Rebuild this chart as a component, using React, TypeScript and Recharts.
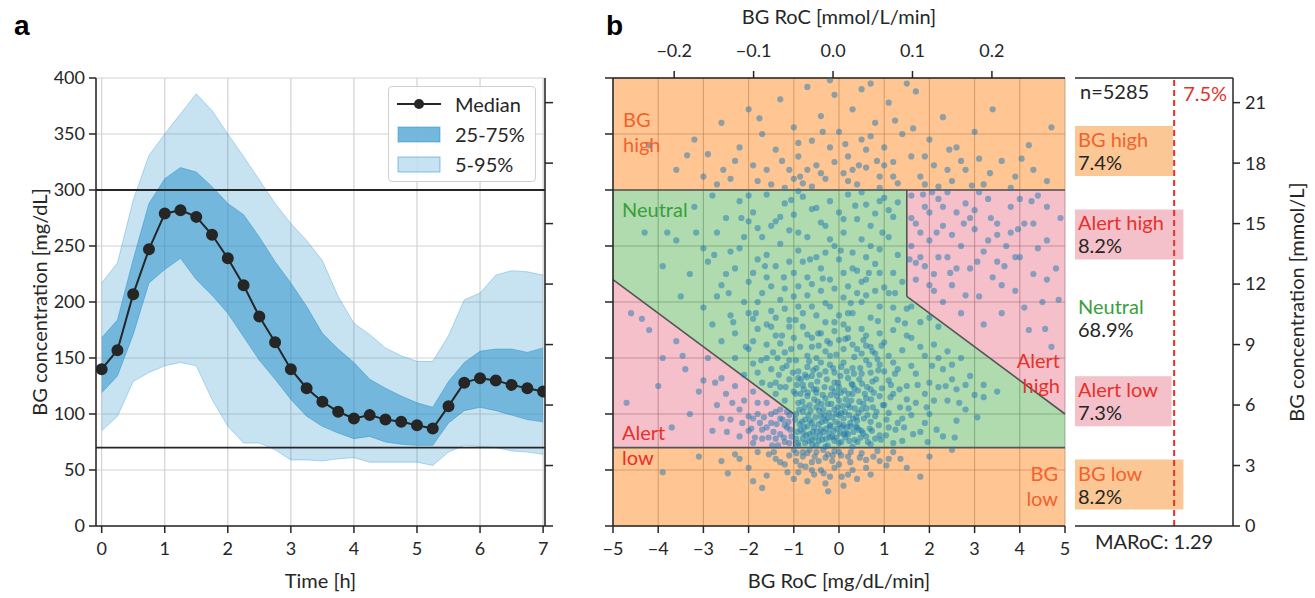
import React from "react"
import {
  ComposedChart, BarChart, Line, Area, Bar, Scatter, Cell, XAxis, YAxis,
  CartesianGrid, ReferenceLine, ReferenceArea, Legend, LabelList,
} from "recharts"

const FONT = "Lato, 'Open Sans', sans-serif"
const INK = "#262626"
const BLUE = "#1f8dc8"
const DOT = "#1f77b4"
const RED = "#e8302a"

// panel a: glucose after the meal, one value every 15 min
const hours = [0, 0.25, 0.5, 0.75, 1, 1.25, 1.5, 1.75, 2, 2.25, 2.5, 2.75, 3, 3.25, 3.5, 3.75, 4, 4.25, 4.5, 4.75, 5, 5.25, 5.5, 5.75, 6, 6.25, 6.5, 6.75, 7]
const median = [140, 157, 207, 247, 279, 282, 276, 260, 239, 215, 187, 164, 140, 123, 111, 102, 96, 99, 95, 93, 90, 87, 107, 128, 132, 130, 126, 123, 120]
const q25 = [119, 134, 171, 217, 229, 239, 220, 206, 190, 169, 148, 131, 113, 98, 89, 83, 78, 80, 75, 73, 72, 72, 92, 103, 106, 103, 99, 95, 93]
const q75 = [168, 184, 238, 288, 310, 320, 316, 303, 288, 278, 258, 236, 217, 196, 172, 158, 146, 131, 123, 116, 110, 106, 129, 146, 156, 158, 158, 155, 159]
const q5 = [85, 98, 129, 137, 143, 146, 143, 113, 89, 74, 74, 68, 59, 59, 58, 60, 61, 57, 57, 57, 57, 54, 66, 72, 71, 70, 67, 66, 64]
const q95 = [217, 235, 291, 331, 350, 368, 386, 371, 350, 330, 309, 288, 270, 255, 237, 205, 181, 171, 159, 152, 147, 147, 170, 202, 208, 224, 228, 227, 224]

const hourTicks = [0, 1, 2, 3, 4, 5, 6, 7]
const bgTicks = [0, 50, 100, 150, 200, 250, 300, 350, 400]
const mmolTicks = [0, 3, 6, 9, 12, 15, 18, 21]
const rocTicks = [-5, -4, -3, -2, -1, 0, 1, 2, 3, 4, 5]
const rocMmolTicks = [-0.2, -0.1, 0, 0.1, 0.2]

// panel b: zone limits
const bgLow = 70
const bgHigh = 300
const alertLowLine = [[-5, 220], [-1, 100]]
const alertHighLine = [[1.5, 205], [5, 100]]

// panel b: samples [RoC mg/dL/min, BG mg/dL]
const highDots = [
  [-3.6, 318], [-3.2, 345], [-2.9, 332], [-2.6, 360], [-2.4, 310], [-2.2, 338], [-2.0, 372], [-1.9, 322], [-1.7, 350], [-1.5, 305],
  [-1.4, 336], [-1.3, 381], [-1.1, 318], [-1.0, 356], [-0.9, 330], [-0.8, 306], [-0.7, 392], [-0.6, 344], [-0.5, 322], [-0.4, 366],
  [-0.3, 310], [-0.2, 338], [-0.1, 385], [0.0, 352], [0.1, 315], [0.2, 330], [0.3, 372], [0.4, 305], [0.5, 345], [0.6, 320],
  [0.7, 395], [0.8, 360], [0.9, 312], [1.0, 338], [1.1, 378], [1.2, 325], [1.3, 306], [1.4, 350], [1.6, 330], [1.7, 388],
  [1.8, 312], [2.0, 345], [2.1, 322], [2.3, 365], [2.5, 308], [2.6, 338], [2.8, 318], [3.0, 352], [3.2, 305], [3.4, 372],
  [3.6, 326], [3.9, 312], [4.2, 340], [4.6, 308], [4.7, 356], [-4.2, 340], [-0.2, 398], [0.5, 390], [1.5, 395], [-1.8, 308],
  [0.9, 302], [-0.6, 303], [2.2, 303], [-2.7, 305], [-1.2, 302], [0.3, 318], [1.9, 305], [2.7, 326], [-0.4, 315], [3.8, 302],
  [-3.0, 312], [4.3, 318], [-1.6, 318], [-0.9, 342], [-0.1, 325], [0.6, 336], [1.2, 312], [1.9, 330], [2.4, 318], [-2.3, 326],
  [0.2, 308], [-0.7, 318], [1.0, 322], [3.1, 328], [-1.0, 310], [0.7, 348],
  [-3.36, 331], [-2.56, 318], [-1.76, 364], [-0.86, 312], [0.14, 341], [0.84, 326], [1.64, 355], [2.44, 336], [3.34, 315], [4.04, 328],
  [-1.26, 326], [0.44, 322], [1.24, 362], [-0.36, 352], [2.94, 304],
]
const alertHighDots = [
  [1.6, 295], [1.7, 270], [1.8, 240], [1.9, 285], [2.0, 255], [2.1, 225], [2.2, 292], [2.3, 268], [2.4, 240], [2.5, 215],
  [2.6, 280], [2.7, 250], [2.8, 288], [2.9, 230], [3.0, 265], [3.1, 205], [3.2, 245], [3.3, 292], [3.4, 222], [3.5, 270],
  [3.6, 190], [3.7, 250], [3.8, 285], [3.9, 210], [4.0, 240], [4.1, 270], [4.2, 175], [4.3, 225], [4.4, 295], [4.5, 200],
  [4.6, 255], [4.7, 160], [4.8, 230], [1.6, 250], [1.7, 220], [2.0, 280], [2.2, 240], [2.4, 298], [2.6, 230], [2.8, 206],
  [3.0, 282], [3.3, 255], [3.5, 236], [3.8, 262], [4.1, 195], [4.4, 248], [4.6, 285], [1.8, 262], [2.5, 260], [3.1, 298],
  [4.9, 275], [2.1, 210], [3.6, 215], [4.0, 292], [1.9, 232], [1.7, 235], [2.0, 215], [2.3, 200], [2.7, 190], [3.2, 180],
  [3.5, 260], [4.3, 270], [2.9, 275], [3.9, 240], [4.6, 220], [2.3, 285], [1.6, 275],
  [1.56, 238], [1.86, 296], [2.16, 262], [2.46, 226], [2.76, 270], [3.06, 236], [3.36, 275], [3.66, 232], [3.96, 265], [4.26, 290],
  [4.56, 176], [4.86, 202], [2.06, 298],
]
const neutralDots = [
  [-3.2, 285], [-2.8, 295], [-2.5, 275], [-2.2, 290], [-1.9, 280], [-1.6, 296], [-1.4, 272], [-1.2, 288], [-1.0, 278], [-0.8, 294],
  [-0.6, 283], [-0.4, 271], [-0.2, 290], [0.0, 280], [0.2, 296], [0.4, 274], [0.6, 287], [0.8, 279], [1.0, 293], [1.2, 276],
  [1.3, 289], [-0.9, 299], [0.5, 298], [-2.0, 272],
  [-3.6, 255], [-3.0, 248], [-2.7, 262], [-2.4, 245], [-2.1, 258], [-1.8, 266], [-1.6, 242], [-1.3, 252], [-1.1, 264], [-0.9, 246],
  [-0.7, 258], [-0.5, 240], [-0.3, 268], [-0.1, 250], [0.1, 262], [0.3, 244], [0.5, 256], [0.7, 268], [0.9, 247], [1.1, 258],
  [1.3, 242], [-1.5, 268], [-0.2, 256], [0.6, 240], [-4.3, 262],
  [-3.3, 225], [-2.9, 236], [-2.6, 215], [-2.3, 230], [-2.0, 218], [-1.8, 238], [-1.6, 222], [-1.4, 232], [-1.2, 212], [-1.0, 226],
  [-0.8, 236], [-0.6, 216], [-0.4, 230], [-0.2, 220], [0.0, 238], [0.2, 214], [0.4, 228], [0.6, 220], [0.8, 234], [1.0, 213],
  [1.2, 226], [1.4, 218], [1.6, 196], [-0.9, 214], [0.1, 226], [-1.9, 226], [-3.9, 232],
  [-3.0, 195], [-2.7, 205], [-2.4, 188], [-2.1, 200], [-1.9, 185], [-1.7, 208], [-1.5, 192], [-1.3, 202], [-1.1, 184], [-0.9, 196],
  [-0.7, 206], [-0.5, 188], [-0.3, 199], [-0.1, 182], [0.1, 204], [0.3, 190], [0.5, 200], [0.7, 186], [0.9, 196], [1.1, 208],
  [1.3, 184], [1.5, 194], [1.8, 182], [2.0, 186], [-0.6, 196], [0.4, 208], [-1.6, 180], [2.2, 178],
  [-2.6, 165], [-2.3, 172], [-2.0, 158], [-1.8, 176], [-1.6, 162], [-1.4, 170], [-1.2, 155], [-1.0, 168], [-0.8, 178], [-0.6, 160],
  [-0.4, 172], [-0.2, 152], [0.0, 166], [0.2, 176], [0.4, 158], [0.6, 170], [0.8, 154], [1.0, 164], [1.2, 175], [1.4, 157],
  [1.6, 168], [1.9, 152], [2.1, 162], [2.4, 156], [2.7, 150], [-0.5, 150], [0.3, 162], [-1.1, 178], [-0.1, 174], [0.9, 172],
  [-2.1, 135], [-1.9, 145], [-1.7, 128], [-1.5, 140], [-1.3, 124], [-1.1, 148], [-0.9, 132], [-0.7, 142], [-0.5, 122], [-0.3, 138],
  [-0.1, 128], [0.1, 146], [0.3, 126], [0.5, 136], [0.7, 122], [0.9, 144], [1.1, 130], [1.3, 140], [1.5, 125], [1.7, 136],
  [2.0, 128], [2.3, 140], [2.6, 122], [2.9, 134], [3.2, 126], [3.5, 120], [-0.6, 134], [-0.2, 144], [0.2, 132], [0.6, 148],
  [-1.0, 120], [1.0, 138], [-0.8, 126], [-0.4, 146], [0.0, 124],
  [-0.97, 95], [-0.9, 110], [-0.8, 102], [-0.7, 116], [-0.6, 92], [-0.5, 106], [-0.4, 98], [-0.3, 114], [-0.2, 90], [-0.1, 104],
  [0.0, 112], [0.1, 96], [0.2, 108], [0.3, 118], [0.4, 94], [0.5, 104], [0.6, 114], [0.8, 98], [1.0, 108], [1.2, 118],
  [1.4, 96], [1.7, 110], [2.0, 100], [2.4, 112], [2.8, 104], [3.2, 115], [-1.2, 112], [-1.4, 118], [-0.95, 100], [-0.85, 118],
  [-0.75, 95], [-0.65, 108], [-0.55, 113], [-0.45, 91], [-0.35, 104], [-0.25, 109], [-0.15, 97], [-0.05, 116], [0.05, 101], [0.15, 113],
  [0.25, 92], [0.35, 105], [0.45, 111], [0.7, 93], [0.9, 116], [1.1, 101], [1.5, 113], [-0.5, 119], [-0.3, 94], [0.0, 99],
  [-0.95, 78], [-0.85, 86], [-0.75, 74], [-0.65, 82], [-0.55, 88], [-0.45, 76], [-0.35, 84], [-0.25, 72], [-0.15, 80], [-0.05, 87],
  [0.05, 75], [0.15, 83], [0.25, 89], [0.35, 77], [0.5, 85], [0.7, 73], [0.9, 81], [1.1, 88], [1.4, 76], [1.8, 84],
  [2.3, 80], [-0.9, 72], [-0.6, 77], [-0.4, 86], [-0.2, 79], [0.0, 74], [0.2, 82], [0.4, 88], [-0.7, 89], [-0.3, 71],
  [0.1, 90], [0.6, 80], [1.2, 74],
  [-0.92, 84], [-0.88, 104], [-0.82, 93], [-0.78, 122], [-0.72, 81], [-0.68, 99], [-0.62, 126], [-0.58, 84], [-0.52, 97], [-0.48, 129],
  [-0.42, 81], [-0.38, 93], [-0.32, 124], [-0.28, 87], [-0.22, 101], [-0.18, 117], [-0.12, 85], [-0.08, 93], [-0.02, 128], [0.02, 83],
  [0.08, 107], [0.12, 121], [0.18, 88], [0.22, 99], [0.28, 127], [0.32, 84], [0.38, 97], [0.42, 121], [0.48, 79], [0.55, 96],
  [0.62, 124], [0.68, 87], [0.75, 106], [0.82, 131], [0.88, 90], [0.95, 123], [1.05, 95], [1.15, 126], [1.25, 86], [1.35, 106],
  [-0.9, 138], [-0.7, 152], [-0.5, 141], [-0.3, 156], [-0.1, 137], [0.1, 158], [0.3, 141], [0.5, 154], [0.7, 137], [-0.6, 168],
  [-0.2, 163], [0.2, 168], [0.6, 161], [-1.1, 131], [-1.25, 141], [-1.4, 128], [-1.6, 150], [-1.8, 137], [-0.95, 148], [-0.75, 135],
  [-0.45, 161], [0.05, 142], [0.45, 131], [0.85, 149], [1.2, 146], [1.6, 143], [1.9, 118], [2.2, 124], [2.5, 131], [1.3, 92],
  [1.6, 99], [1.9, 92], [2.1, 112], [2.6, 94], [3.0, 117], [-0.8, 78], [-0.5, 72], [-0.1, 76], [0.3, 71], [0.8, 78],
  [-2.5, 225], [-2.2, 248], [-1.7, 258], [-1.5, 214], [-1.3, 276], [-1.1, 236], [-0.9, 262], [-0.7, 222], [-0.5, 284], [-0.3, 244],
  [-0.1, 212], [0.1, 274], [0.3, 230], [0.5, 218], [0.7, 250], [0.9, 226], [1.1, 282], [-2.0, 190], [-1.8, 200], [-1.4, 186],
  [-1.2, 194], [-1.0, 205], [-0.8, 190], [-0.4, 210], [-0.2, 196], [0.0, 188], [0.2, 190], [0.6, 206], [0.8, 210], [1.2, 195],
  [-1.9, 165], [-1.5, 178], [-1.3, 163], [-0.7, 171], [-0.3, 182], [0.1, 180], [0.5, 176], [0.7, 160], [1.1, 152], [1.5, 170],
  [1.8, 160], [2.2, 150], [2.5, 144], [2.8, 126], [-2.3, 150], [-2.8, 180], [-3.5, 205], [-3.8, 262], [-2.0, 295], [0.9, 290],
  [-0.93, 126], [-0.87, 91], [-0.81, 111], [-0.77, 88], [-0.71, 133], [-0.67, 76], [-0.63, 103], [-0.57, 139], [-0.53, 79], [-0.47, 111],
  [-0.43, 135], [-0.37, 77], [-0.33, 99], [-0.27, 131], [-0.23, 83], [-0.17, 109], [-0.13, 141], [-0.07, 79], [-0.03, 106], [0.03, 134],
  [0.07, 88], [0.13, 102], [0.17, 138], [0.23, 76], [0.27, 112], [0.33, 136], [0.37, 89], [0.43, 101], [0.47, 141], [0.53, 83],
  [0.57, 118], [0.63, 99], [0.67, 144], [0.73, 85], [0.77, 119], [0.83, 102], [0.87, 139], [0.93, 77], [0.97, 108], [-0.96, 118],
  [-0.84, 131], [-0.76, 106], [-0.64, 94], [-0.56, 122], [-0.44, 103], [-0.36, 117], [-0.26, 96], [-0.16, 123], [-0.06, 100], [0.04, 119],
  [0.14, 79], [0.24, 106], [0.34, 123], [0.44, 86], [0.54, 109], [0.64, 75], [0.74, 129], [-0.91, 74], [-0.79, 83], [-0.69, 119],
  [-0.59, 73], [-0.49, 84], [-0.39, 109], [-0.29, 78], [-0.19, 89], [-0.09, 120], [0.01, 91], [0.11, 82], [0.21, 118], [0.31, 96],
  [0.41, 75], [0.51, 127], [0.61, 105], [0.71, 113], [-0.86, 160], [-0.66, 147], [-0.46, 172], [-0.26, 165], [-0.06, 153], [0.14, 167],
  [0.34, 151], [0.54, 166], [0.74, 156], [0.94, 161], [-1.06, 158], [-1.26, 170], [-1.46, 155], [-1.16, 143], [-1.36, 150], [1.14, 115],
  [1.34, 122], [1.54, 105], [1.74, 126], [1.94, 106], [1.24, 136], [1.44, 88], [1.64, 82], [1.04, 81], [-1.02, 137], [-1.18, 124],
  [-1.33, 135], [-1.52, 126], [-1.72, 148], [-2.06, 160], [-2.34, 182], [-1.84, 190], [-1.22, 222], [-0.64, 238], [0.04, 246], [0.66, 226],
  [1.24, 208], [-0.96, 184], [-0.36, 221], [0.26, 199], [0.86, 183], [1.46, 181], [2.06, 143], [2.36, 125], [2.66, 110], [3.06, 97],
  [2.16, 86], [2.56, 79], [1.96, 75], [-2.44, 208], [-1.64, 232], [-2.76, 242], [-3.16, 262], [-2.16, 275], [-1.06, 291], [0.36, 286],
  [0.96, 262],
]
const alertLowDots = [
  [-4.6, 190], [-4.2, 175], [-3.9, 150], [-3.6, 165], [-3.4, 140], [-3.1, 120], [-2.9, 150], [-2.7, 108], [-2.6, 132], [-2.4, 95],
  [-2.3, 125], [-2.1, 112], [-2.0, 85], [-1.9, 120], [-1.8, 100], [-1.7, 78], [-1.6, 110], [-1.5, 92], [-1.4, 102], [-1.3, 82],
  [-1.25, 95], [-1.2, 75], [-1.15, 88], [-1.1, 99], [-1.05, 80], [-1.6, 88], [-1.9, 96], [-2.2, 104], [-2.5, 118], [-3.3, 100],
  [-4.0, 125], [-4.7, 110], [-3.7, 88], [-1.35, 72], [-1.45, 84], [-1.75, 92], [-2.8, 85], [-1.3, 104], [-1.2, 90], [-1.3, 96],
  [-1.4, 78], [-1.5, 100], [-1.7, 86], [-1.8, 110], [-2.0, 98], [-2.2, 80], [-1.1, 74], [-1.15, 102], [-2.6, 96], [-3.0, 130],
  [-1.9, 74], [-1.08, 86], [-1.22, 79], [-1.38, 91], [-1.56, 79], [-1.66, 97], [-1.94, 87], [-2.14, 92], [-2.36, 110], [-2.74, 128],
  [-3.46, 152], [-4.36, 185], [-1.12, 93], [-1.48, 72], [-1.86, 79], [-2.48, 84],
]
const lowDots = [
  [-2.6, 58], [-2.3, 64], [-2.0, 52], [-1.8, 66], [-1.6, 45], [-1.4, 60], [-1.2, 55], [-1.0, 68], [-0.9, 48], [-0.8, 62],
  [-0.7, 40], [-0.6, 57], [-0.5, 66], [-0.4, 50], [-0.3, 61], [-0.2, 44], [-0.1, 67], [0.0, 55], [0.1, 36], [0.2, 62],
  [0.3, 50], [0.5, 65], [0.7, 46], [0.9, 58], [1.2, 66], [1.5, 52], [2.0, 62], [2.5, 68], [-3.1, 62], [-1.7, 34],
  [-0.95, 58], [-0.55, 46], [-0.15, 58], [0.4, 42], [-3.9, 48], [-1.1, 63], [-0.65, 68], [-0.25, 64], [1.8, 44], [-0.7, 65],
  [-0.45, 58], [-0.1, 52], [0.25, 57], [-0.35, 68], [0.05, 63], [-0.85, 54], [0.6, 59], [-1.3, 57], [-1.55, 64], [0.85, 67],
  [1.05, 54], [-2.2, 60], [-1.0, 42], [-0.3, 38], [0.6, 52], [1.1, 60], [-1.9, 40], [0.2, 46], [-0.8, 66], [0.0, 66],
  [-0.6, 50], [-1.14, 48], [-0.74, 53], [-0.34, 47], [0.06, 44], [0.46, 61], [-0.54, 62], [-0.14, 63], [0.26, 66], [-1.44, 66],
  [-0.94, 65], [0.76, 62], [-2.46, 47], [-0.24, 31], [1.36, 60],
]

// side panel
const zoneNames = ["BG high", "Alert high", "Neutral", "Alert low", "BG low"]
const zoneShares = [7.4, 8.2, 68.9, 7.3, 8.2]
const sampleCount = 5285
const alarmRate = 7.5
const maroc = 1.29

const ORANGE = "#ff7f0e"
const GREEN = "#2ca02c"
const PINK = "#e0405c"
const zoneStyle: Record<string, { bar: string; text: string }> = {
  "BG high": { bar: "#fac795", text: "#f2622e" },
  "Alert high": { bar: "#f4c0c9", text: RED },
  "Neutral": { bar: "none", text: "#3a9e3a" },
  "Alert low": { bar: "#f4c0c9", text: RED },
  "BG low": { bar: "#fac795", text: "#f2622e" },
}

const tickFont = { fontSize: 18, fill: INK, fontFamily: FONT }
const titleFont = { fontSize: 20, fill: INK, fontFamily: FONT }
const spine = { stroke: INK, strokeWidth: 1.5 }
const minus = (s: string) => s.replace("-", "\u2212")

function BandLegend() {
  const row = { display: "flex", alignItems: "center", height: 30 }
  const patch = (op: number) => (
    <svg width={44} height={22}>
      <rect x={1} y={4} width={42} height={15} fill={BLUE} fillOpacity={op} stroke={BLUE} strokeOpacity={0.5} />
    </svg>
  )
  return (
    <div style={{ border: "1px solid #d0d0d0", borderRadius: 4, background: "rgba(255,255,255,0.85)", padding: "2px 8px", fontFamily: FONT, fontSize: 20, color: INK }}>
      <div style={row}>
        <svg width={44} height={22}>
          <line x1={0} x2={44} y1={11} y2={11} stroke={INK} strokeWidth={2} />
          <circle cx={22} cy={11} r={5} fill={INK} />
        </svg>
        <span style={{ marginLeft: 14 }}>Median</span>
      </div>
      <div style={row}>{patch(0.62)}<span style={{ marginLeft: 14 }}>25-75%</span></div>
      <div style={row}>{patch(0.25)}<span style={{ marginLeft: 14 }}>5-95%</span></div>
    </div>
  )
}

function PanelA() {
  const rows = hours.map((t, i) => ({ t, median: median[i], iqr: [q25[i], q75[i]], outer: [q5[i], q95[i]] }))
  return (
    <ComposedChart width={600} height={598} data={rows} margin={{ top: 78, right: 45, bottom: 0, left: 0 }}>
      <CartesianGrid stroke="#d2d2d2" strokeWidth={1.2} />
      <XAxis dataKey="t" type="number" domain={[-0.09, 7.03]} ticks={hourTicks} allowDataOverflow
        height={72} tickSize={7} tickMargin={9} axisLine={spine} tickLine={spine} tick={tickFont}
        label={{ value: "Time [h]", position: "insideBottom", offset: 10, ...titleFont }} />
      <XAxis xAxisId="top" dataKey="t" orientation="top" type="number" domain={[-0.09, 7.03]} allowDataOverflow
        height={0} tick={false} tickLine={false} axisLine={spine} />
      <YAxis type="number" domain={[0, 400]} ticks={bgTicks} width={96} tickSize={7} tickMargin={4}
        axisLine={spine} tickLine={spine} tick={tickFont}
        label={{ value: "BG concentration [mg/dL]", angle: -90, position: "insideLeft", offset: 40, ...titleFont, style: { textAnchor: "middle" } }} />
      <YAxis yAxisId="mmol" orientation="right" type="number" domain={[0, 400 / 18]} ticks={mmolTicks} allowDataOverflow
        width={10} tickSize={8} tickLine={spine} axisLine={spine} tickFormatter={() => ""} />
      <Legend layout="vertical" align="center" verticalAlign="middle" content={() => <BandLegend />}
        wrapperStyle={{ left: 388, top: 86, width: 148 }} />
      <Area dataKey="outer" type="linear" fill={BLUE} fillOpacity={0.25} stroke={BLUE} strokeOpacity={0.3} isAnimationActive={false} />
      <Area dataKey="iqr" type="linear" fill={BLUE} fillOpacity={0.5} stroke={BLUE} strokeOpacity={0.45} isAnimationActive={false} />
      <ReferenceLine y={bgLow} stroke={INK} strokeWidth={1.8} />
      <ReferenceLine y={bgHigh} stroke={INK} strokeWidth={1.8} />
      <Line dataKey="median" type="linear" stroke={INK} strokeWidth={2} dot={{ r: 5, fill: INK, stroke: INK }} isAnimationActive={false} />
    </ComposedChart>
  )
}

function PanelB() {
  const [lowA, lowB] = alertLowLine
  const [highA, highB] = alertHighLine
  const zones = [
    { roc: lowA[0], neutral: [lowA[1], bgHigh], low: [bgLow, lowA[1]] },
    { roc: lowB[0], neutral: [lowB[1], bgHigh], low: [bgLow, lowB[1]] },
    { roc: lowB[0], neutral: [bgLow, bgHigh] },
    { roc: highA[0], neutral: [bgLow, bgHigh], high: [bgHigh, bgHigh] },
    { roc: highA[0], neutral: [bgLow, highA[1]], high: [highA[1], bgHigh] },
    { roc: highB[0], neutral: [bgLow, highB[1]], high: [highB[1], bgHigh] },
  ]
  const dots = [...highDots, ...alertHighDots, ...neutralDots, ...alertLowDots, ...lowDots].map(([roc, bg]) => ({ roc, bg }))
  const edge = { stroke: "#555", strokeWidth: 1.6 }
  return (
    <ComposedChart width={540} height={598} data={zones} margin={{ top: 0, right: 35, bottom: 0, left: 43 }}>
      <CartesianGrid stroke="#6f6f6f" strokeOpacity={0.5} strokeWidth={1.1} />
      <XAxis dataKey="roc" type="number" domain={[-5, 5]} ticks={rocTicks} allowDataOverflow
        height={72} tickSize={7} tickMargin={9} axisLine={spine} tickLine={spine} tick={tickFont}
        tickFormatter={(v) => minus(String(v))}
        label={{ value: "BG RoC [mg/dL/min]", position: "insideBottom", offset: 10, ...titleFont }} />
      <XAxis xAxisId="top" dataKey="roc" orientation="top" type="number" domain={[-0.277, 0.292]} ticks={rocMmolTicks} allowDataOverflow
        height={78} tickSize={7} tickMargin={14} axisLine={spine} tickLine={spine} tick={tickFont}
        tickFormatter={(v) => minus(Number(v).toFixed(1))}
        label={{ value: "BG RoC [mmol/L/min]", position: "insideTop", offset: 10, ...titleFont }} />
      <YAxis type="number" domain={[0, 400]} ticks={bgTicks} allowDataOverflow width={10} tickSize={8}
        axisLine={spine} tickLine={spine} tickFormatter={() => ""} />
      <YAxis yAxisId="edge" orientation="right" type="number" domain={[0, 400]} allowDataOverflow width={0}
        tick={false} tickLine={false} axisLine={spine} />
      <ReferenceArea y1={bgHigh} y2={400} fill={ORANGE} fillOpacity={0.45} stroke="none" />
      <ReferenceArea y1={0} y2={bgLow} fill={ORANGE} fillOpacity={0.45} stroke="none" />
      <Area dataKey="neutral" type="linear" fill={GREEN} fillOpacity={0.38} stroke="none" isAnimationActive={false} />
      <Area dataKey="low" type="linear" fill={PINK} fillOpacity={0.33} stroke="none" isAnimationActive={false} />
      <Area dataKey="high" type="linear" fill={PINK} fillOpacity={0.33} stroke="none" isAnimationActive={false} />
      <ReferenceLine y={bgHigh} {...edge} />
      <ReferenceLine y={bgLow} {...edge} />
      <ReferenceLine segment={[{ x: lowA[0], y: lowA[1] }, { x: lowB[0], y: lowB[1] }]} {...edge} />
      <ReferenceLine segment={[{ x: lowB[0], y: lowB[1] }, { x: lowB[0], y: bgLow }]} {...edge} />
      <ReferenceLine segment={[{ x: highA[0], y: bgHigh }, { x: highA[0], y: highA[1] }]} {...edge} />
      <ReferenceLine segment={[{ x: highA[0], y: highA[1] }, { x: highB[0], y: highB[1] }]} {...edge} />
      <Scatter data={dots} dataKey="bg" isAnimationActive={false}
        shape={(p: any) => <circle cx={p.cx} cy={p.cy} r={3.1} fill={DOT} fillOpacity={0.5} />} />
    </ComposedChart>
  )
}

function ZoneLabel(p: any) {
  const vb = p.viewBox ?? p
  const name = zoneNames[p.index]
  if (!name) return null
  const cy = vb.y + vb.height / 2
  return (
    <g fontFamily={FONT} fontSize={20}>
      <text x={vb.x + 3} y={cy - 12} dominantBaseline="central" fill={zoneStyle[name].text}>{name}</text>
      <text x={vb.x + 3} y={cy + 11} dominantBaseline="central" fill={INK}>{zoneShares[p.index].toFixed(1)}%</text>
    </g>
  )
}

function ZoneBars() {
  const rows = zoneNames.map((name, i) => ({ name, share: zoneShares[i] }))
  return (
    <BarChart layout="vertical" width={255} height={598} data={rows} margin={{ top: 0, right: 0, bottom: 0, left: 15 }}>
      <XAxis type="number" dataKey="share" domain={[0, 11.95]} allowDataOverflow height={72} tick={false} tickLine={false} axisLine={spine}
        label={{ value: `MARoC: ${maroc}`, position: "insideTop", offset: 9, ...titleFont }} />
      <XAxis xAxisId="top" dataKey="share" orientation="top" type="number" domain={[0, 11.95]} allowDataOverflow height={78}
        tick={false} tickLine={false} axisLine={spine} />
      <YAxis yAxisId="cat" type="category" dataKey="name" width={0} tick={false} tickLine={false}
        padding={{ top: 31, bottom: 0 }} axisLine={{ stroke: "#6a6a6a", strokeWidth: 1.5 }} />
      <YAxis yAxisId="mmol" dataKey="share" orientation="right" type="number" domain={[0, 400 / 18]} ticks={mmolTicks} allowDataOverflow reversed
        width={82} tickSize={7} tickMargin={5} axisLine={spine} tickLine={spine} tick={tickFont}
        label={{ value: "BG concentration [mmol/L]", angle: -90, position: "insideRight", offset: 18, ...titleFont, style: { textAnchor: "middle" } }} />
      <Bar dataKey="share" yAxisId="cat" barSize={50} isAnimationActive={false}>
        {rows.map((r) => <Cell key={r.name} fill={zoneStyle[r.name].bar} />)}
        <LabelList dataKey="share" content={ZoneLabel} />
      </Bar>
      <ReferenceLine x={alarmRate} yAxisId="cat" stroke={RED} strokeWidth={2} strokeDasharray="6 4"
        label={{ value: `${alarmRate}%`, position: "insideTopLeft", offset: 9, fontSize: 20, fill: RED, fontFamily: FONT }} />
    </BarChart>
  )
}

function Note({ lines, color, left, right, top }: { lines: string[]; color: string; left?: number; right?: number; top: number }) {
  return (
    <div style={{ position: "absolute", left, right, top, color, fontFamily: FONT, fontSize: 20, lineHeight: "25px", textAlign: right !== undefined ? "right" : "left", whiteSpace: "nowrap" }}>
      {lines.map((l) => <div key={l}>{l}</div>)}
    </div>
  )
}

export default function App() {
  return (
    <div style={{ position: "absolute", left: 0, top: 0, width: 1315, height: 598, background: "#fff", overflow: "hidden" }}>
      <div style={{ position: "absolute", left: 0, top: 0 }}><PanelA /></div>
      <div style={{ position: "absolute", left: 560, top: 0 }}><PanelB /></div>
      <div style={{ position: "absolute", left: 1060, top: 0 }}><ZoneBars /></div>
      <div style={{ position: "absolute", left: 14, top: 10, fontFamily: "'Liberation Sans', Arial, sans-serif", fontWeight: 700, fontSize: 28 }}>a</div>
      <div style={{ position: "absolute", left: 606, top: 10, fontFamily: "'Liberation Sans', Arial, sans-serif", fontWeight: 700, fontSize: 28 }}>b</div>
      <Note lines={["BG", "high"]} color={zoneStyle["BG high"].text} left={623} top={107} />
      <Note lines={["Neutral"]} color={zoneStyle["Neutral"].text} left={622} top={197} />
      <Note lines={["Alert", "low"]} color={RED} left={622} top={420} />
      <Note lines={["Alert", "high"]} color={RED} right={255} top={348} />
      <Note lines={["BG", "low"]} color={zoneStyle["BG low"].text} right={257} top={461} />
      <Note lines={[`n=${sampleCount}`]} color={INK} left={1080} top={79} />
    </div>
  )
}
